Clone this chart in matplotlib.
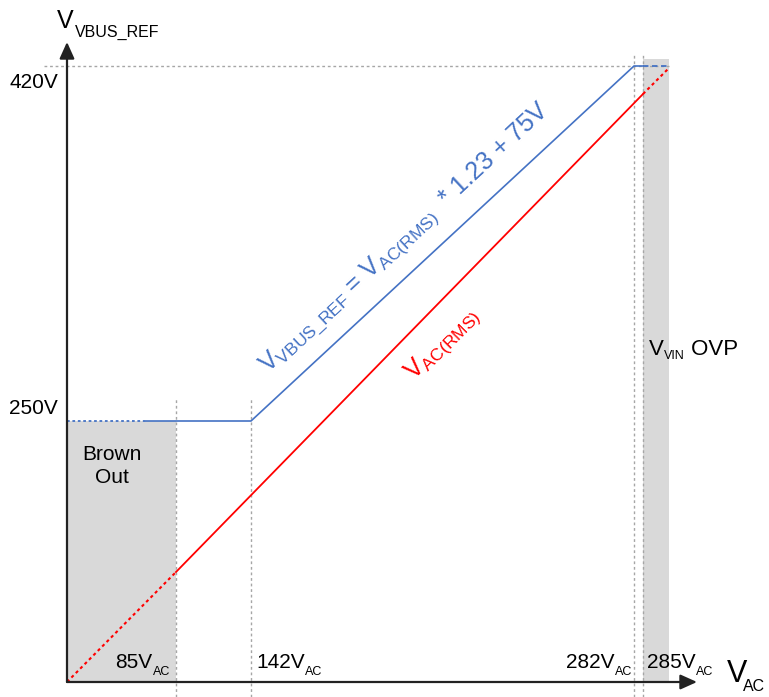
import numpy as np
import matplotlib
matplotlib.use('Agg')
import matplotlib.pyplot as plt

plt.rcParams['font.family'] = ['Liberation Sans', 'DejaVu Sans']
plt.rcParams['mathtext.fontset'] = 'custom'
plt.rcParams['mathtext.rm'] = 'Liberation Sans'
plt.rcParams['mathtext.it'] = 'Liberation Sans'

# schematic (not to scale): marks along V_AC axis and V_BUS_REF axis
vac_values = [85, 142, 282, 285]
vac_pos = [109, 184, 567, 576]
vbus_values = [250, 420]
vbus_pos = [261, 616]
ovp_end = 602

# V_BUS_REF curve (diagram units)
blue_x = [0, 79, 184, 567, 576, 602]
blue_y = [261, 261, 261, 616, 616, 616]
# V_AC(RMS) curve
red_x = [0, 109, 576, 602]
red_y = [0, 110, 588, 614]

blue = '#4472c4'
red = '#ff0000'
shade = '#d9d9d9'
guide = '#a6a6a6'

fig = plt.figure(figsize=(7.69, 6.97), dpi=100)
ax = fig.add_axes([0, 0, 1, 1])
# 1 data unit = 1 pixel, origin at the axes corner
ax.set_xlim(-67, 769 - 67)
ax.set_ylim(-15, 697 - 15)
ax.axis('off')
renderer = fig.canvas.get_renderer()


def sub_text(x, y, main, sub, size, subsize, drop, ha='left', kern=0, tail=None):
    # main text + lowered subscript (+ optional tail), placed side by side
    parts = []
    t = ax.text(x, y, main, fontsize=size, va='baseline')
    parts.append(t)
    cx = x + t.get_window_extent(renderer).width + kern
    t = ax.text(cx, y - drop, sub, fontsize=subsize, va='baseline')
    parts.append(t)
    cx += t.get_window_extent(renderer).width
    if tail:
        t = ax.text(cx, y, tail, fontsize=size, va='baseline')
        parts.append(t)
        cx += t.get_window_extent(renderer).width
    if ha == 'right':
        w = cx - x
        for p in parts:
            p.set_x(p.get_position()[0] - w)


# shaded regions
ax.fill_between([0, vac_pos[0]], 0, vbus_pos[0], color=shade, lw=0, zorder=0)
ax.fill_between([vac_pos[3], ovp_end], 0, 623, color=shade, lw=0, zorder=0)

# guide lines
for i, p in enumerate(vac_pos):
    top = 285 if i < 2 else 627
    ax.plot([p, p], [-15, top], color=guide, ls=(0, (2, 2)), lw=1, zorder=1)
ax.plot([-23, ovp_end], [vbus_pos[1], vbus_pos[1]], color=guide, ls=(0, (2, 2)), lw=1, zorder=1)

# curves
ax.plot(blue_x[:2], blue_y[:2], color=blue, ls=(0, (1.5, 1.5)), lw=1.3, zorder=3)
ax.plot(blue_x[1:5], blue_y[1:5], color=blue, lw=1.2, zorder=3)
ax.plot(blue_x[4:], blue_y[4:], color=blue, ls=(0, (3, 2)), lw=1.3, zorder=3)
ax.plot(red_x[:2], red_y[:2], color=red, ls=(0, (1.5, 1.5)), lw=1.5, zorder=3)
ax.plot(red_x[1:3], red_y[1:3], color=red, lw=1.3, zorder=3)
ax.plot(red_x[2:], red_y[2:], color=red, ls=(0, (1.5, 1.5)), lw=1.5, zorder=3)

# axes arrows
arr = dict(arrowstyle='-|>,head_length=1.0,head_width=0.45', color='#222222', lw=1.6,
           shrinkA=0, shrinkB=0)
ax.annotate('', xy=(0, 640), xytext=(0, 0), arrowprops=arr, zorder=5)
ax.annotate('', xy=(630, 0), xytext=(0, 0), arrowprops=arr, zorder=5)

# axis titles
sub_text(-10, 654, 'V', 'VBUS_REF', 18, 11.5, 9, kern=1)
sub_text(660, 0, 'V', 'AC', 22, 11.5, 9, kern=-4)

# tick labels
ax.text(-9, 599, '%dV' % vbus_values[1], fontsize=15, ha='right', va='center')
ax.text(-9, 274, '%dV' % vbus_values[0], fontsize=15, ha='right', va='center')
sub_text(vac_pos[0] - 6, 14, '%dV' % vac_values[0], 'AC', 15, 9, 7, ha='right')
sub_text(vac_pos[1] + 5, 14, '%dV' % vac_values[1], 'AC', 15, 9, 7)
sub_text(vac_pos[2] - 2, 14, '%dV' % vac_values[2], 'AC', 15, 9, 7, ha='right')
sub_text(vac_pos[3] + 4, 14, '%dV' % vac_values[3], 'AC', 15, 9, 7)

# region labels
ax.text(45, 216, 'Brown\nOut', fontsize=15, ha='center', va='center', linespacing=1.3)
sub_text(582, 327, 'V', 'VIN', 16, 9, 4, tail=' OVP')

# curve labels
ang_b = np.degrees(np.arctan2(blue_y[3] - blue_y[2], blue_x[3] - blue_x[2]))
ax.text(338, 444, r'V$_{\mathrm{VBUS\_REF}}$ = V$_{\mathrm{AC(RMS)}}$  * 1.23 + 75V',
        fontsize=18, color=blue, rotation=ang_b, rotation_mode='anchor',
        ha='center', va='center')
ax.text(376, 338, r'V$_{\mathrm{AC(RMS)}}$', fontsize=18, color=red, rotation=45,
        rotation_mode='anchor', ha='center', va='center')

fig.savefig('out.png', dpi=100)
